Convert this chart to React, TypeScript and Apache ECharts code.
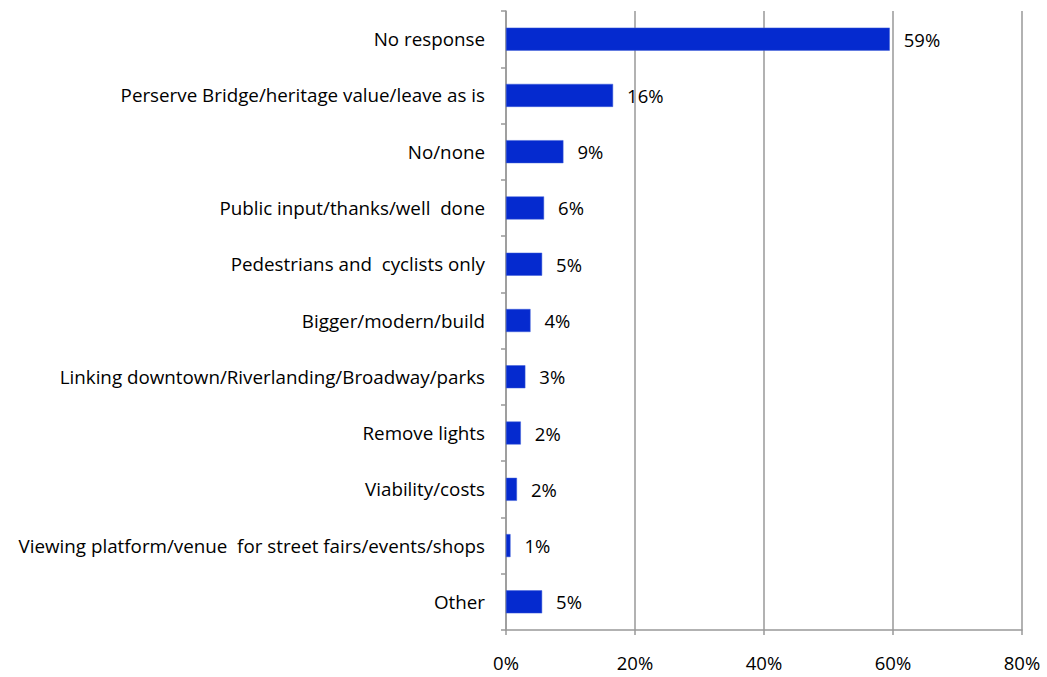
import React, { useEffect, useRef } from "react";
import * as echarts from "echarts";

const categories = [
  "No response",
  "Perserve Bridge/heritage value/leave as is",
  "No/none",
  "Public input/thanks/well  done",
  "Pedestrians and  cyclists only",
  "Bigger/modern/build",
  "Linking downtown/Riverlanding/Broadway/parks",
  "Remove lights",
  "Viability/costs",
  "Viewing platform/venue  for street fairs/events/shops",
  "Other",
];
const values = [59.5, 16.6, 8.9, 5.9, 5.6, 3.8, 3.0, 2.3, 1.7, 0.7, 5.6];
const valueLabels = ["59%", "16%", "9%", "6%", "5%", "4%", "3%", "2%", "2%", "1%", "5%"];
const xTicks = [0, 20, 40, 60, 80];

const FONT = "'Open Sans', 'Noto Sans', sans-serif";

export default function App() {
  const ref = useRef<HTMLDivElement>(null);
  useEffect(() => {
    if (!ref.current) return;
    const chart = echarts.init(ref.current, null, { renderer: "svg" });
    chart.setOption({
      animation: false,
      backgroundColor: "#ffffff",
      grid: { left: 506, right: 25, top: 11, bottom: 47, containLabel: false },
      xAxis: {
        type: "value",
        min: xTicks[0],
        max: xTicks[xTicks.length - 1],
        interval: 20,
        axisLine: { show: true, lineStyle: { color: "#999999", width: 1.5 } },
        axisTick: { show: true, length: 5, lineStyle: { color: "#999999", width: 1.5 } },
        splitLine: { show: true, lineStyle: { color: "#999999", width: 1.5 } },
        axisLabel: {
          formatter: (v: number) => `${v}%`,
          color: "#000",
          fontFamily: FONT,
          fontSize: 18.5,
          margin: 23,
        },
      },
      yAxis: {
        type: "category",
        data: categories,
        inverse: true,
        axisLine: { show: true, lineStyle: { color: "#999999", width: 1.5 } },
        axisTick: { show: true, length: 5, lineStyle: { color: "#999999", width: 1.5 } },
        axisLabel: {
          color: "#000",
          fontFamily: FONT,
          fontSize: 18.8,
          margin: 21,
        },
      },
      series: [
        {
          type: "bar",
          data: values,
          barWidth: 23,
          itemStyle: { color: "#052ACF", borderColor: "#3F5FD8", borderWidth: 0.5 },
          label: {
            show: true,
            position: "right",
            distance: 14,
            color: "#000",
            fontFamily: FONT,
            fontSize: 18.5,
            formatter: (p: any) => valueLabels[p.dataIndex],
          },
        },
      ],
    });
    return () => chart.dispose();
  }, []);
  return (
    <div
      ref={ref}
      style={{ position: "fixed", left: 0, top: 0, width: 1047, height: 677, background: "#fff" }}
    />
  );
}
